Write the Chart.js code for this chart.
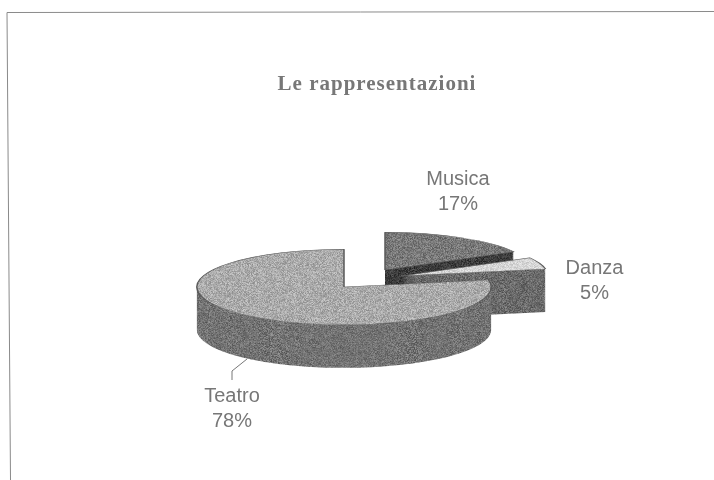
<!DOCTYPE html>
<html lang="it">
<head>
  <meta charset="UTF-8">
  <title>Le rappresentazioni</title>
  <script src="https://cdn.jsdelivr.net/npm/chart.js"></script>
  <style>
    body { margin: 0; background: #fff; }
    canvas { display: block; }
  </style>
</head>
<body>
  <canvas id="pie-chart" width="714" height="480"></canvas>

  <script>
    const titleText = 'Le rappresentazioni';
    const categories = ['Musica', 'Danza', 'Teatro'];
    const shares = [17, 5, 78];

    // Deterministic speckle so the faces look like the scanned print
    function speckle(base, spread) {
      const size = 96;
      const tile = document.createElement('canvas');
      tile.width = size;
      tile.height = size;
      const tileCtx = tile.getContext('2d');
      const img = tileCtx.createImageData(size, size);
      let seed = base * 7 + 13;
      for (let i = 0; i < img.data.length; i += 4) {
        seed = (seed * 1103515245 + 12345) & 0x7fffffff;
        const v = base + ((seed >> 16) % (spread * 2)) - spread;
        img.data[i] = img.data[i + 1] = img.data[i + 2] = v;
        img.data[i + 3] = 255;
      }
      tileCtx.putImageData(img, 0, 0);
      return tileCtx.createPattern(tile, 'repeat');
    }

    const topColors = [speckle(122, 34), speckle(215, 25), speckle(172, 34)];
    const sideColors = [speckle(62, 38), speckle(108, 40), speckle(116, 40)];

    // Projection of the flat pie: tilt, depth and where each slice sits
    const tilt = 0.257;
    const depth = 43;
    const sliceCentres = [[385, 270], [401, 276], [344, 287]];

    const pie3d = {
      id: 'pie3d',
      beforeDraw(chart) {
        chart.ctx.letterSpacing = '1px'; // the title is spaced out in the original
      },
      beforeDatasetDraw(chart, args) {
        const ctx = chart.ctx;
        args.meta.data.forEach((arc, i) => {
          const face = arc.options;
          const side = {
            backgroundColor: sideColors[i], borderColor: sideColors[i], borderWidth: 0,
            borderAlign: 'center', borderRadius: 0, offset: 0, spacing: 0, circular: true
          };
          const [cx, cy] = sliceCentres[i];
          const place = (dy) => {
            ctx.save();
            ctx.translate(cx, cy + dy);
            ctx.scale(1, tilt);
            ctx.translate(-arc.x, -arc.y);
          };
          arc.options = side;
          for (let d = depth; d > 0; d--) {
            // shift the speckle per layer, otherwise the side gets vertical streaks
            sideColors[i].setTransform(new DOMMatrix([1, 0, 0, 1, d * 37, d * 53]));
            place(d);
            arc.draw(ctx);
            ctx.restore();
          }
          arc.options = face;
          place(0);
          arc.draw(ctx);
          ctx.restore();
        });
        return false;
      },
      afterDraw(chart) {
        const ctx = chart.ctx;
        ctx.save();
        ctx.letterSpacing = '0px';
        // Scanned page frame, no right or bottom edge in the original
        ctx.strokeStyle = '#8a8a8a';
        ctx.lineWidth = 1;
        ctx.beginPath();
        ctx.moveTo(714, 11.5);
        ctx.lineTo(7, 12.5);
        ctx.lineTo(10.5, 480);
        ctx.stroke();
        // Leader line for Teatro
        ctx.strokeStyle = '#777';
        ctx.beginPath();
        ctx.moveTo(247, 359);
        ctx.lineTo(232, 371);
        ctx.lineTo(232, 380);
        ctx.stroke();
        // Slice labels
        const labelSpots = [[458, 179], [594.5, 268], [232, 396]];
        ctx.fillStyle = '#777';
        ctx.font = '20px "Liberation Sans", Arial, sans-serif';
        ctx.textAlign = 'center';
        ctx.textBaseline = 'middle';
        categories.forEach((name, i) => {
          const [x, y] = labelSpots[i];
          ctx.fillText(name, x, y);
          ctx.fillText(shares[i] + '%', x, y + 25);
        });
        ctx.restore();
      }
    };

    new Chart(document.getElementById('pie-chart'), {
      type: 'pie',
      data: {
        labels: categories,
        datasets: [{
          data: shares,
          backgroundColor: topColors,
          borderColor: '#5a5a5a',
          borderWidth: 1.5
        }]
      },
      options: {
        responsive: false,
        animation: false,
        layout: { padding: { left: 40, right: 0, top: 72, bottom: 87 } },
        plugins: {
          legend: { display: false },
          tooltip: { enabled: false },
          title: {
            display: true,
            text: titleText,
            color: '#777',
            font: { family: '"Liberation Serif", serif', size: 21, weight: 'bold' },
            padding: 0
          }
        }
      },
      plugins: [pie3d]
    });
  </script>
</body>
</html>
